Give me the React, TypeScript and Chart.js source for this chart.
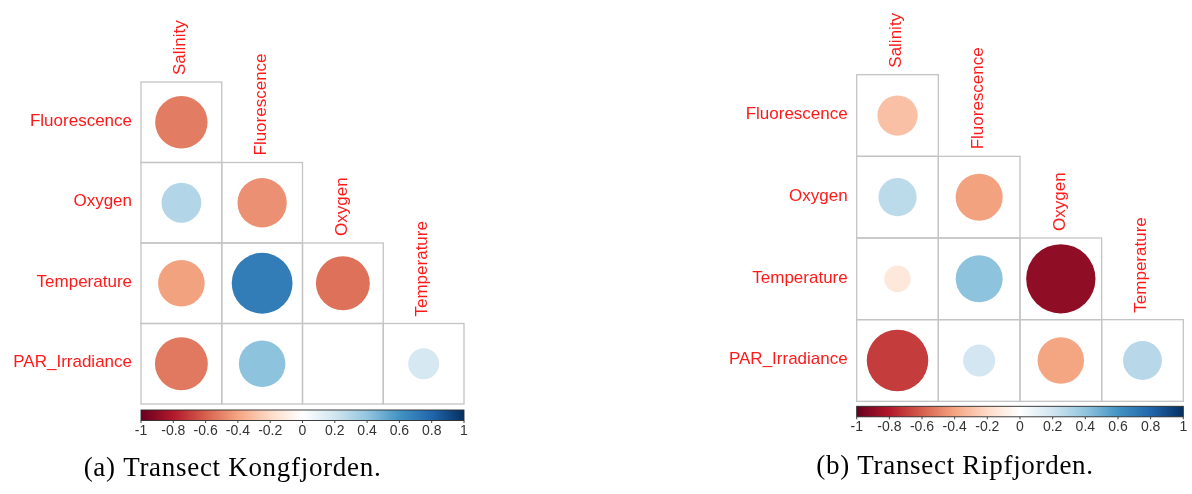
import React, { useEffect, useRef } from 'react';
import { Chart, registerables } from 'chart.js';

Chart.register(...registerables);

// ---- data ----
const rowLabels = ['Fluorescence', 'Oxygen', 'Temperature', 'PAR_Irradiance'];
const colLabels = ['Salinity', 'Fluorescence', 'Oxygen', 'Temperature'];

// lower-triangle correlation values, row i holds columns 0..i
const kongfjordenCorr = [
  [-0.52],
  [0.3, -0.46],
  [-0.41, 0.7, -0.55],
  [-0.53, 0.41, -0.004, 0.18],
];
const ripfjordenCorr = [
  [-0.3],
  [0.27, -0.41],
  [-0.13, 0.41, -0.89],
  [-0.7, 0.19, -0.4, 0.28],
];

const legendTicks = [-1, -0.8, -0.6, -0.4, -0.2, 0, 0.2, 0.4, 0.6, 0.8, 1];

const kongCaption = '(a) Transect Kongfjorden.';
const ripCaption = '(b) Transect Ripfjorden.';

// corrplot RdBu palette (-1 .. 1)
const RDBU = ['#67001F', '#B2182B', '#D6604D', '#F4A582', '#FDDBC7', '#FFFFFF', '#D1E5F0', '#92C5DE', '#4393C3', '#2166AC', '#053061'];

function hexToRgb(h: string) {
  const n = parseInt(h.slice(1), 16);
  return [(n >> 16) & 255, (n >> 8) & 255, n & 255];
}

function corrColor(v: number) {
  const t = ((Math.max(-1, Math.min(1, v)) + 1) / 2) * (RDBU.length - 1);
  const i = Math.min(Math.floor(t), RDBU.length - 2);
  const f = t - i;
  const a = hexToRgb(RDBU[i]);
  const b = hexToRgb(RDBU[i + 1]);
  const c = a.map((av, k) => Math.round(av + (b[k] - av) * f));
  return `rgb(${c[0]},${c[1]},${c[2]})`;
}

const LABEL_FONT = '17px "Liberation Sans", Arial, sans-serif';
const LABEL_COLOR = '#FF1A1A';

const decorPlugin = {
  id: 'corrDecor',
  beforeDatasetsDraw(chart: any) {
    const { ctx } = chart;
    const x = chart.scales.x;
    const y = chart.scales.y;
    ctx.save();
    ctx.strokeStyle = '#C4C4C4';
    ctx.lineWidth = 1.3;
    const pts = chart.data.datasets[0].data as any[];
    pts.forEach((p) => {
      const l = x.getPixelForValue(p.x - 0.5);
      const r = x.getPixelForValue(p.x + 0.5);
      const t = y.getPixelForValue(p.y - 0.5);
      const b = y.getPixelForValue(p.y + 0.5);
      ctx.strokeRect(l, t, r - l, b - t);
    });
    ctx.restore();
  },
  afterDatasetsDraw(chart: any, _args: any, opts: any) {
    const { ctx, chartArea } = chart;
    const x = chart.scales.x;
    const y = chart.scales.y;
    const cb = chart.scales.cbar;
    ctx.save();

    // row labels
    ctx.font = LABEL_FONT;
    ctx.fillStyle = LABEL_COLOR;
    ctx.textAlign = 'right';
    ctx.textBaseline = 'middle';
    rowLabels.forEach((lab, i) => {
      ctx.fillText(lab, chartArea.left - 9, y.getPixelForValue(i + 1) - 1);
    });

    // column labels (rotated, above the top cell of each column)
    colLabels.forEach((lab, j) => {
      const xc = x.getPixelForValue(j + 1) - 1;
      const top = y.getPixelForValue(j + 0.5);
      ctx.save();
      ctx.translate(xc, top - 7);
      ctx.rotate(-Math.PI / 2);
      ctx.textAlign = 'left';
      ctx.textBaseline = 'middle';
      ctx.fillText(lab, 0, 0);
      ctx.restore();
    });

    // colour bar
    const left = cb.getPixelForValue(-1);
    const right = cb.getPixelForValue(1);
    const top = chartArea.bottom + opts.barGap;
    const h = opts.barHeight;
    const grad = ctx.createLinearGradient(left, 0, right, 0);
    RDBU.forEach((c, k) => grad.addColorStop(k / (RDBU.length - 1), c));
    ctx.fillStyle = grad;
    ctx.fillRect(left, top, right - left, h);
    ctx.strokeStyle = '#2a2a2a';
    ctx.lineWidth = 0.9;
    ctx.strokeRect(left, top, right - left, h);

    ctx.strokeStyle = '#444';
    ctx.lineWidth = 1;
    ctx.fillStyle = '#333';
    ctx.font = '14px "Liberation Sans", Arial, sans-serif';
    ctx.textAlign = 'center';
    ctx.textBaseline = 'middle';
    legendTicks.forEach((t) => {
      const px = cb.getPixelForValue(t);
      ctx.beginPath();
      ctx.moveTo(px, top + h);
      ctx.lineTo(px, top + h + 2.5);
      ctx.stroke();
      ctx.fillText(String(t), px, top + h + 10.5);
    });

    // caption
    ctx.fillStyle = '#000';
    ctx.font = '27px "Liberation Serif", "Times New Roman", serif';
    ctx.textAlign = 'center';
    ctx.textBaseline = 'alphabetic';
    try {
      (ctx as any).letterSpacing = '0.7px';
    } catch (e) {
      /* ignore */
    }
    ctx.fillText(opts.caption, opts.captionX, opts.captionY);
    ctx.restore();
  },
};

type PanelProps = {
  matrix: number[][];
  caption: string;
  padding: { left: number; right: number; top: number; bottom: number };
  captionX: number;
  captionY: number;
  barGap: number;
};

function CorrPanel({ matrix, caption, padding, captionX, captionY, barGap }: PanelProps) {
  const ref = useRef<HTMLCanvasElement>(null);
  useEffect(() => {
    if (!ref.current) return;
    const points = matrix.flatMap((row, i) => row.map((v, j) => ({ x: j + 1, y: i + 1, v })));
    const radius = (ctx: any) => {
      const raw = ctx.raw;
      if (!raw) return 0;
      const xs = ctx.chart.scales.x;
      const cell = Math.abs(xs.getPixelForValue(1) - xs.getPixelForValue(0));
      return 0.45 * cell * Math.sqrt(Math.abs(raw.v));
    };
    const chart = new Chart(ref.current, {
      type: 'scatter',
      data: {
        datasets: [
          {
            data: points as any,
            pointRadius: radius as any,
            pointHoverRadius: radius as any,
            backgroundColor: ((ctx: any) => (ctx.raw ? corrColor(ctx.raw.v) : 'transparent')) as any,
            borderWidth: 0,
          },
        ],
      },
      options: {
        animation: false,
        responsive: false,
        events: [],
        layout: { padding },
        scales: {
          x: { type: 'linear', min: 0.5, max: 4.5, display: false },
          y: { type: 'linear', min: 0.5, max: 4.5, reverse: true, display: false },
          cbar: { type: 'linear', axis: 'x', position: 'bottom', min: -1, max: 1, display: false },
        } as any,
        plugins: {
          legend: { display: false },
          tooltip: { enabled: false },
          corrDecor: { caption, captionX, captionY, barGap, barHeight: 10.5 },
        } as any,
      },
      plugins: [decorPlugin as any],
    });
    return () => chart.destroy();
  }, []);
  return <canvas ref={ref} width={596} height={494} style={{ display: 'block' }} />;
}

export default function App() {
  return (
    <div style={{ position: 'fixed', left: 0, top: 0, width: 1192, height: 494, background: '#fff' }}>
      <div style={{ position: 'absolute', left: 0, top: 0, width: 596, height: 494 }}>
        <CorrPanel
          matrix={kongfjordenCorr}
          caption={kongCaption}
          padding={{ left: 141, right: 132, top: 82, bottom: 90 }}
          captionX={232.5}
          captionY={476}
          barGap={6}
        />
      </div>
      <div style={{ position: 'absolute', left: 596, top: 0, width: 596, height: 494 }}>
        <CorrPanel
          matrix={ripfjordenCorr}
          caption={ripCaption}
          padding={{ left: 260.7, right: 8.7, top: 74.7, bottom: 92.7 }}
          captionX={359}
          captionY={474}
          barGap={5}
        />
      </div>
    </div>
  );
}
